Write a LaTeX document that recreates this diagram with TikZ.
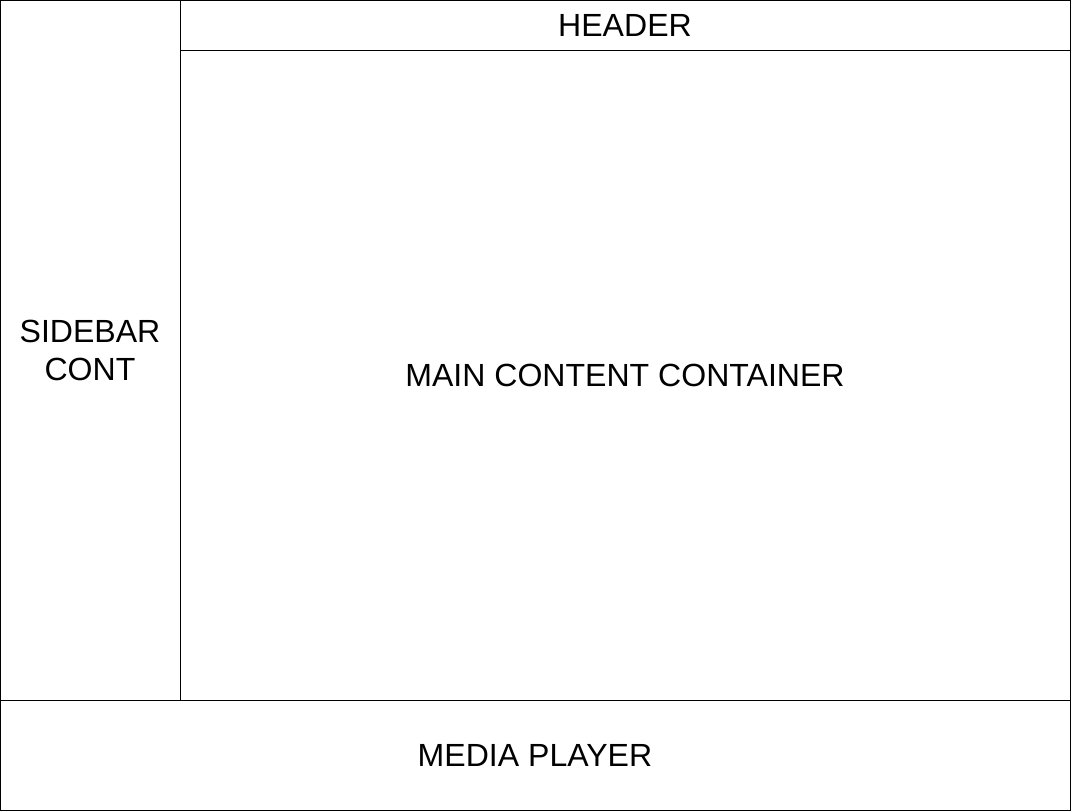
\documentclass[tikz,border=0pt]{standalone}
\usepackage{fontspec}
\setmainfont{Liberation Sans}
\usepackage{tikz}
\usetikzlibrary{positioning}

\begin{document}
\begin{tikzpicture}[font=\fontsize{22.8}{27}\selectfont,
    panel/.style={draw=black, line width=0.7pt, inner sep=0pt, outer sep=0pt,
                  align=center, anchor=north west}]

  \useasboundingbox (0,0) rectangle (26.775,-20.275);

  \node[panel, minimum width=4.5cm, minimum height=17.5cm] (sidebar) at (0,0) {SIDEBAR\\CONT};
  \node[panel, minimum width=22.25cm, minimum height=1.25cm] (header) at (4.5,0) {HEADER};
  \node[panel, minimum width=22.25cm, minimum height=16.25cm] (main) at (4.5,-1.25) {MAIN CONTENT CONTAINER};
  \node[panel, minimum width=26.75cm, minimum height=2.75cm] (player) at (0,-17.5) {MEDIA PLAYER};
\end{tikzpicture}
\end{document}
